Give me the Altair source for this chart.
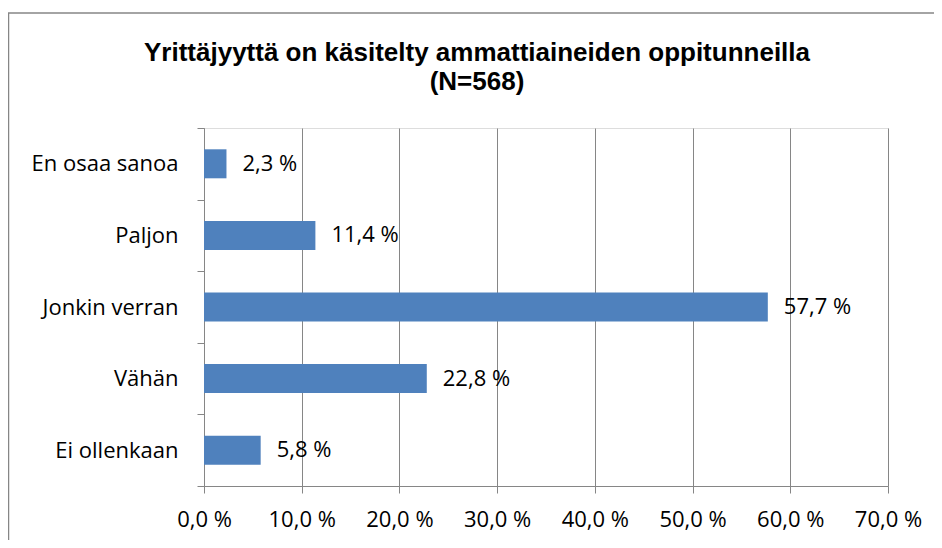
import altair as alt
import pandas as pd

categories = ["En osaa sanoa", "Paljon", "Jonkin verran", "Vähän", "Ei ollenkaan"]
values = [2.3, 11.4, 57.7, 22.8, 5.8]
x_ticks = [0, 10, 20, 30, 40, 50, 60, 70]
title_lines = ["Yrittäjyyttä on käsitelty ammattiaineiden oppitunneilla", "(N=568)"]

df = pd.DataFrame({"cat": categories, "val": values})
df["label"] = [f"{v:.1f}".replace(".", ",") + " %" for v in values]

FONT = "Open Sans"
FS = 22
GRID = "#868686"
BAR = "#4F81BD"

y_enc = alt.Y("cat:N", sort=categories, title=None,
              scale=alt.Scale(paddingInner=0, paddingOuter=0),
              axis=alt.Axis(tickBand="extent", tickSize=7, tickColor=GRID,
                            domainColor=GRID, labelFont=FONT, labelFontSize=FS,
                            labelColor="black", labelPadding=19, grid=False,
                            labelLimit=300))
x_enc = alt.X("val:Q", title=None,
              scale=alt.Scale(domain=[0, 70], nice=False),
              axis=alt.Axis(values=x_ticks, grid=True, gridColor=GRID,
                            gridOpacity=1, tickSize=7, tickColor=GRID,
                            domainColor=GRID, labelFont=FONT, labelFontSize=FS,
                            labelColor="black", labelPadding=16,
                            labelFlush=False, labelOverlap=False,
                            labelExpr="replace(format(datum.value, '.1f'), '.', ',') + ' %'"))

base = alt.Chart(df)
bars = base.mark_bar(color=BAR, size=29).encode(x=x_enc, y=y_enc)
labels = base.mark_text(align="left", baseline="middle", dx=16, font=FONT,
                        fontSize=FS, color="black").encode(
    x="val:Q", y=alt.Y("cat:N", sort=categories), text="label:N")

one = alt.InlineData(values=[{"a": 1}])
frame = alt.Chart(one).mark_rect(
    fill=None, stroke=GRID, strokeWidth=1.5).encode(
    x=alt.value(-195.5), x2=alt.value(900), y=alt.value(-115), y2=alt.value(600))

title1 = alt.Chart(one).mark_text(
    text=title_lines[0], font="Liberation Sans", fontSize=26, fontWeight="bold",
    color="black", align="center", baseline="alphabetic").encode(
    x=alt.value(273), y=alt.value(-67))
title2 = alt.Chart(one).mark_text(
    text=title_lines[1], font="Liberation Sans", fontSize=26, fontWeight="bold",
    color="black", align="center", baseline="alphabetic").encode(
    x=alt.value(273), y=alt.value(-38))

chart = alt.layer(frame, bars, labels, title1, title2).properties(
    width=684, height=358,
    autosize=alt.AutoSizeParams(type="none"),
    padding={"left": 196, "top": 120, "right": 46, "bottom": 54},
).configure_view(stroke=None).configure(background="white")

chart.save("out.html", embed_options={"renderer": "svg", "actions": False})
